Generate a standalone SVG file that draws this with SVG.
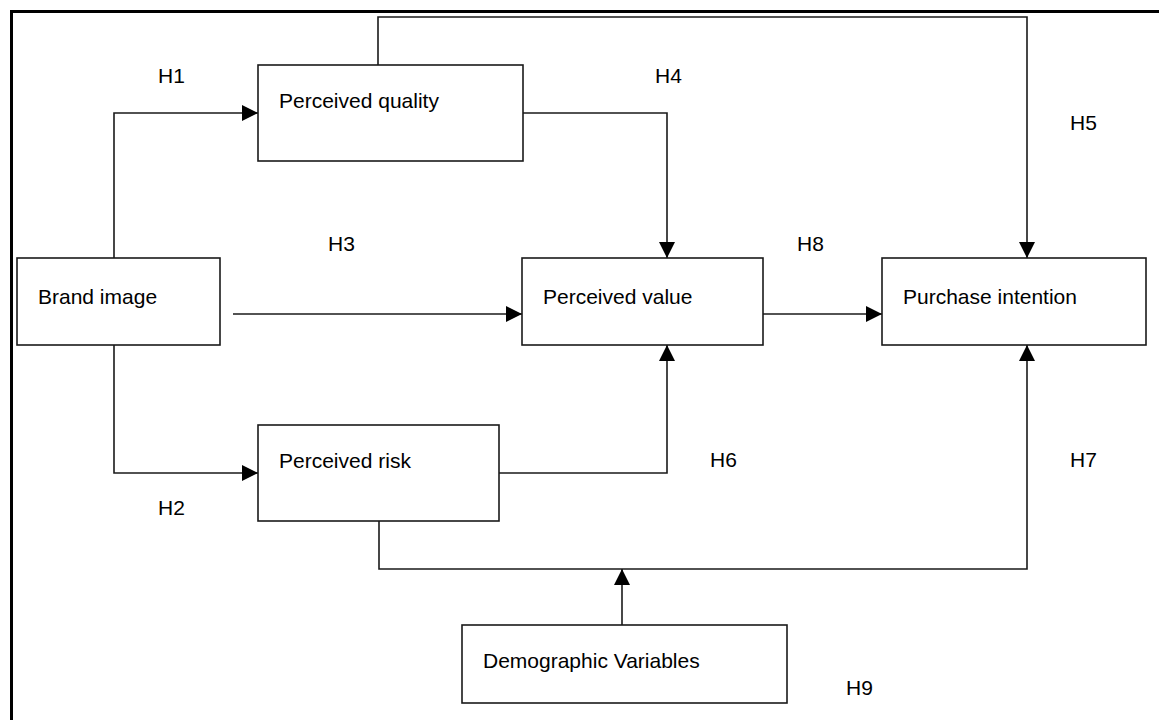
<svg xmlns="http://www.w3.org/2000/svg" width="1159" height="720" viewBox="0 0 1159 720">
<style>
.box{fill:#fff;stroke:#1a1a1a;stroke-width:1.6}
.t{font-family:"Liberation Sans",Arial,sans-serif;font-size:21px;fill:#000}
.c{fill:none;stroke:#1a1a1a;stroke-width:1.6}
</style>
<defs>
<marker id="ah" viewBox="0 0 16 16" refX="16" refY="8" markerWidth="16" markerHeight="16" markerUnits="userSpaceOnUse" orient="auto">
<path d="M0,0 L16,8 L0,16 Z" fill="#000"/>
</marker>
</defs>
<rect width="1159" height="720" fill="#fff"/>
<path d="M11.5,720 V11.5 H1159" fill="none" stroke="#000" stroke-width="3"/>
<g id="connectors">
<path class="c" d="M114,258 V113 H258" marker-end="url(#ah)"/>
<path class="c" d="M114,345 V473 H258" marker-end="url(#ah)"/>
<path class="c" d="M233,314 H522" marker-end="url(#ah)"/>
<path class="c" d="M523,113 H667 V258" marker-end="url(#ah)"/>
<path class="c" d="M378,65 V17 H1027 V258" marker-end="url(#ah)"/>
<path class="c" d="M499,473 H667 V345" marker-end="url(#ah)"/>
<path class="c" d="M379,521 V569 H1027 V345" marker-end="url(#ah)"/>
<path class="c" d="M763,314 H882" marker-end="url(#ah)"/>
<path class="c" d="M622,625 V569" marker-end="url(#ah)"/>
</g>
<g id="labels">
<text class="t" x="158" y="83">H1</text>
<text class="t" x="655" y="83">H4</text>
<text class="t" x="1070" y="130">H5</text>
<text class="t" x="328" y="251">H3</text>
<text class="t" x="797" y="251">H8</text>
<text class="t" x="158" y="515">H2</text>
<text class="t" x="710" y="467">H6</text>
<text class="t" x="1070" y="467">H7</text>
<text class="t" x="846" y="695">H9</text>
</g>
<g id="perceived-quality">
<rect class="box" x="258" y="65" width="265" height="96"/>
<text class="t" x="279" y="108">Perceived quality</text>
</g>
<g id="brand-image">
<rect class="box" x="17" y="258" width="203" height="87"/>
<text class="t" x="38" y="304">Brand image</text>
</g>
<g id="perceived-value">
<rect class="box" x="522" y="258" width="241" height="87"/>
<text class="t" x="543" y="304">Perceived value</text>
</g>
<g id="purchase-intention">
<rect class="box" x="882" y="258" width="264" height="87"/>
<text class="t" x="903" y="304">Purchase intention</text>
</g>
<g id="perceived-risk">
<rect class="box" x="258" y="425" width="241" height="96"/>
<text class="t" x="279" y="468">Perceived risk</text>
</g>
<g id="demographic-variables">
<rect class="box" x="462" y="625" width="325" height="78"/>
<text class="t" x="483" y="668">Demographic Variables</text>
</g>
</svg>
